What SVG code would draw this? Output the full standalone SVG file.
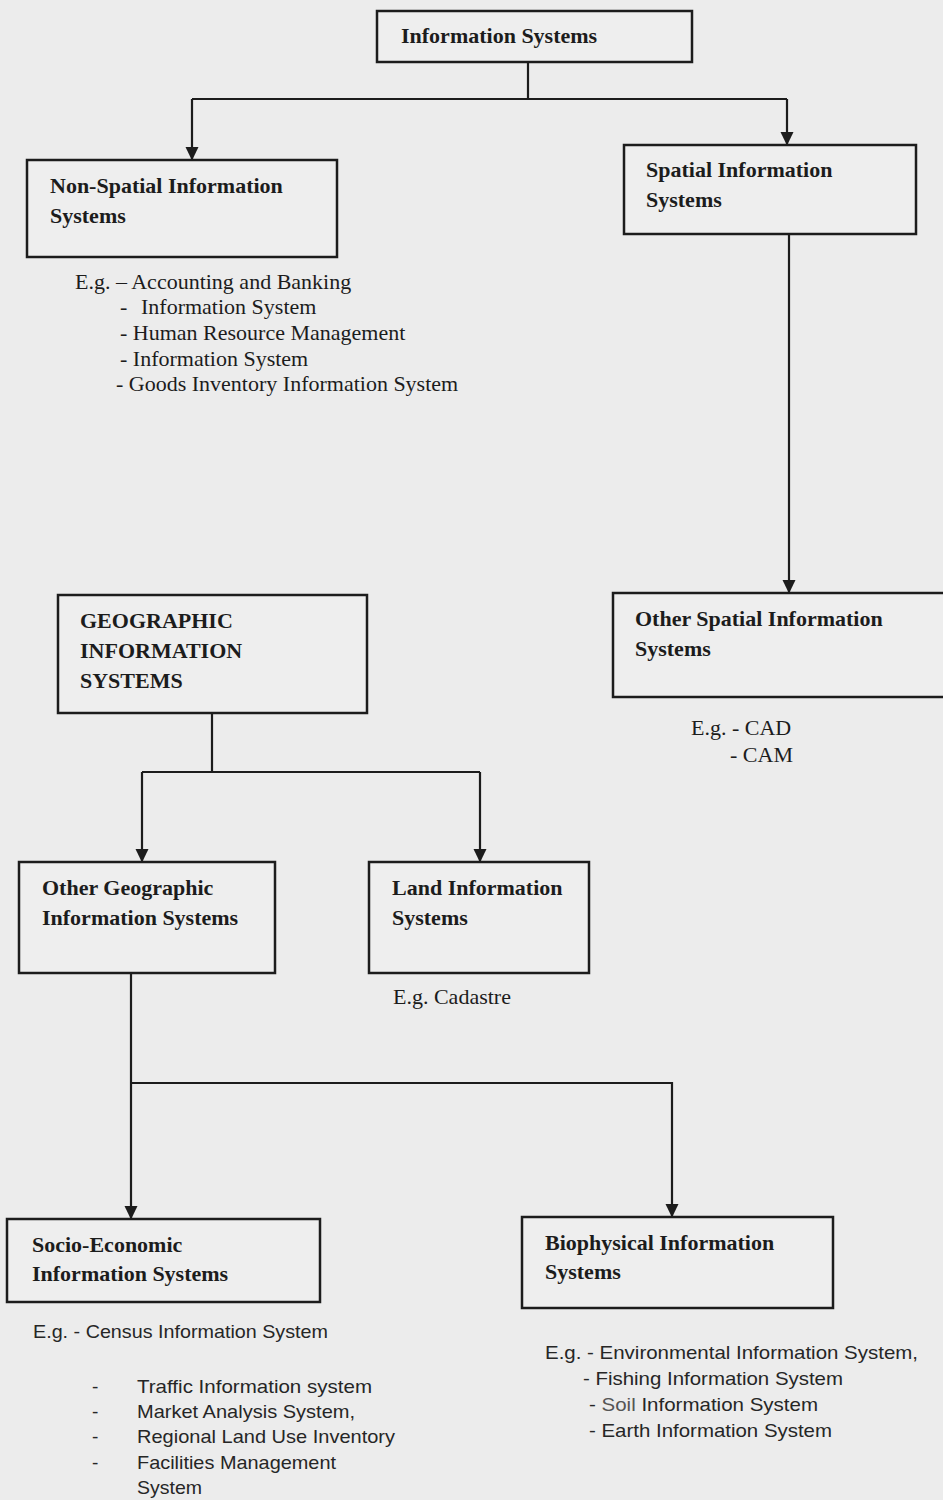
<svg xmlns="http://www.w3.org/2000/svg" width="943" height="1500" viewBox="0 0 943 1500">
  <style>
    .box { fill: #eeeeee; stroke: #1c1c1c; stroke-width: 2.5; }
    .wire { fill: none; stroke: #1c1c1c; stroke-width: 2.2; }
    .lbl { font-family: "Liberation Serif", "Times New Roman", serif; font-weight: bold; font-size: 22px; fill: #1c1c1c; }
    .ex { font-family: "Liberation Serif", "Times New Roman", serif; font-size: 22px; fill: #1c1c1c; }
    .exs { font-family: "Liberation Sans", Arial, sans-serif; font-size: 19px; fill: #262626; }
  </style>
  <defs>
    <marker id="down" markerUnits="userSpaceOnUse" markerWidth="14" markerHeight="14" viewBox="0 0 14 14" refX="7" refY="13" orient="0">
      <path d="M0.5,0 L13.5,0 L7,13.5 Z" fill="#1c1c1c"/>
    </marker>
  </defs>

  <rect width="943" height="1500" fill="#ececec"/>

  <!-- connectors -->
  <g id="connectors">
    <path class="wire" d="M528,62 V99"/>
    <path class="wire" d="M192,99 H787"/>
    <path class="wire" d="M192,99 V160" marker-end="url(#down)"/>
    <path class="wire" d="M787,99 V145" marker-end="url(#down)"/>
    <path class="wire" d="M789,234 V593" marker-end="url(#down)"/>
    <path class="wire" d="M212,713 V772"/>
    <path class="wire" d="M142,772 H480"/>
    <path class="wire" d="M142,772 V862" marker-end="url(#down)"/>
    <path class="wire" d="M480,772 V862" marker-end="url(#down)"/>
    <path class="wire" d="M131,973 V1219" marker-end="url(#down)"/>
    <path class="wire" d="M131,1083 H672 V1217" marker-end="url(#down)"/>
  </g>

  <!-- nodes -->
  <g id="information-systems">
    <rect class="box" x="377" y="11" width="315" height="51"/>
    <text class="lbl" x="401" y="43">Information Systems</text>
  </g>

  <g id="non-spatial">
    <rect class="box" x="27" y="160" width="310" height="97"/>
    <text class="lbl" x="50" y="193">Non-Spatial Information</text>
    <text class="lbl" x="50" y="223">Systems</text>
    <text class="ex" x="75" y="289">E.g. – Accounting and Banking</text>
    <text class="ex" x="120" y="314">-<tspan x="141">Information System</tspan></text>
    <text class="ex" x="120" y="340">- Human Resource Management</text>
    <text class="ex" x="120" y="366">- Information System</text>
    <text class="ex" x="116" y="391">- Goods Inventory Information System</text>
  </g>

  <g id="spatial">
    <rect class="box" x="624" y="145" width="292" height="89"/>
    <text class="lbl" x="646" y="177">Spatial Information</text>
    <text class="lbl" x="646" y="207">Systems</text>
  </g>

  <g id="gis">
    <rect class="box" x="58" y="595" width="309" height="118"/>
    <text class="lbl" x="80" y="628">GEOGRAPHIC</text>
    <text class="lbl" x="80" y="658">INFORMATION</text>
    <text class="lbl" x="80" y="688">SYSTEMS</text>
  </g>

  <g id="other-spatial">
    <rect class="box" x="613" y="593" width="332" height="104"/>
    <text class="lbl" x="635" y="626">Other Spatial Information</text>
    <text class="lbl" x="635" y="656">Systems</text>
    <text class="ex" x="691" y="735">E.g. - CAD</text>
    <text class="ex" x="730" y="762">- CAM</text>
  </g>

  <g id="other-geographic">
    <rect class="box" x="19" y="862" width="256" height="111"/>
    <text class="lbl" x="42" y="895">Other Geographic</text>
    <text class="lbl" x="42" y="925">Information Systems</text>
  </g>

  <g id="land">
    <rect class="box" x="369" y="862" width="220" height="111"/>
    <text class="lbl" x="392" y="895">Land Information</text>
    <text class="lbl" x="392" y="925">Systems</text>
    <text class="ex" x="393" y="1004">E.g. Cadastre</text>
  </g>

  <g id="socio-economic">
    <rect class="box" x="7" y="1219" width="313" height="83"/>
    <text class="lbl" x="32" y="1252">Socio-Economic</text>
    <text class="lbl" x="32" y="1281">Information Systems</text>
    <text class="exs" x="33" y="1338" textLength="295" lengthAdjust="spacingAndGlyphs">E.g. - Census Information System</text>
    <text class="exs" x="92" y="1393">-</text>
    <text class="exs" x="137" y="1393" textLength="235" lengthAdjust="spacingAndGlyphs">Traffic Information system</text>
    <text class="exs" x="92" y="1418">-</text>
    <text class="exs" x="137" y="1418" textLength="218" lengthAdjust="spacingAndGlyphs">Market Analysis System,</text>
    <text class="exs" x="92" y="1443">-</text>
    <text class="exs" x="137" y="1443" textLength="258" lengthAdjust="spacingAndGlyphs">Regional Land Use Inventory</text>
    <text class="exs" x="92" y="1469">-</text>
    <text class="exs" x="137" y="1469" textLength="199" lengthAdjust="spacingAndGlyphs">Facilities Management</text>
    <text class="exs" x="137" y="1494" textLength="65" lengthAdjust="spacingAndGlyphs">System</text>
  </g>

  <g id="biophysical">
    <rect class="box" x="522" y="1217" width="311" height="91"/>
    <text class="lbl" x="545" y="1250">Biophysical Information</text>
    <text class="lbl" x="545" y="1279">Systems</text>
    <text class="exs" x="545" y="1359" textLength="373" lengthAdjust="spacingAndGlyphs">E.g. - Environmental Information System,</text>
    <text class="exs" x="583" y="1385" textLength="260" lengthAdjust="spacingAndGlyphs">- Fishing Information System</text>
    <text class="exs" x="589" y="1411" textLength="229" lengthAdjust="spacingAndGlyphs">- <tspan fill="#555555">Soil</tspan> Information System</text>
    <text class="exs" x="589" y="1437" textLength="243" lengthAdjust="spacingAndGlyphs">- Earth Information System</text>
  </g>
</svg>
